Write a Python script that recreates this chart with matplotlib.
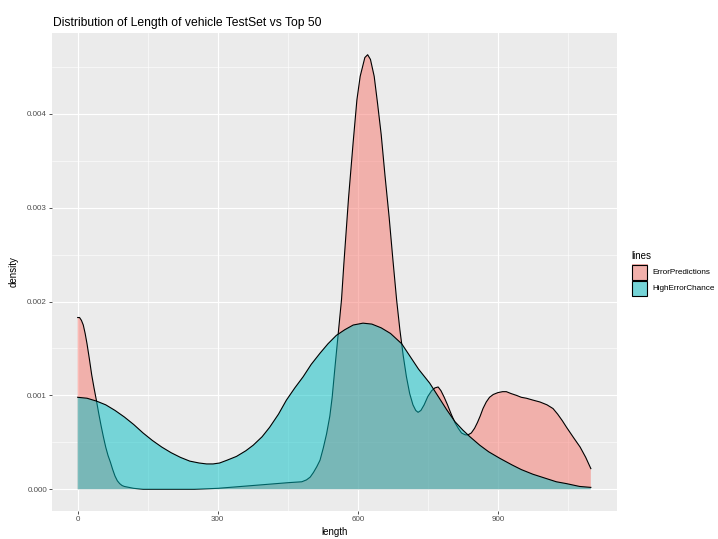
import matplotlib
matplotlib.use("Agg")
import matplotlib.pyplot as plt
from matplotlib.patches import Rectangle

plt.rcParams["font.family"] = ["Liberation Sans", "DejaVu Sans"]

title = "Distribution of Length of vehicle TestSet vs Top 50"
x_label = "length"
y_label = "density"
legend_title = "lines"
series_names = ["ErrorPredictions", "HighErrorChance"]
fill_colors = ["#F8766D", "#00BFC4"]

# density estimate of ErrorPredictions (length, density)
err_x = [0, 4, 8, 12, 16, 20, 25, 30, 35, 40, 45, 50, 55, 60, 65, 70, 75, 80,
         85, 90, 95, 100, 110, 120, 140, 200, 250, 300, 350, 400, 450, 480,
         490, 498, 505, 512, 519, 526, 533, 540, 545, 551, 558, 565, 570, 580,
         590, 598, 605, 615, 621, 627, 635, 642, 650, 658, 667, 675, 683, 690,
         697, 704, 711, 718, 724, 729, 735, 742, 750, 758, 765, 772, 778, 785,
         792, 800, 808, 815, 822, 830, 836, 843, 850, 856, 862, 868, 875, 882,
         890, 900, 910, 918, 928, 940, 950, 961, 975, 990, 1005, 1018, 1028,
         1038, 1047, 1062, 1076, 1088, 1099]
err_y = [0.00183, 0.00183, 0.00180, 0.00175, 0.00166, 0.00155, 0.00139, 0.00122,
         0.00108, 0.00095, 0.00081, 0.00068, 0.00056, 0.00045, 0.00036, 0.00029,
         0.00021, 0.00014, 0.00009, 0.00006, 0.00004, 0.00003, 0.00002, 0.00001,
         0.0, 0.0, 0.0, 0.00001, 0.00003, 0.00005, 0.00007, 0.00008,
         0.00010, 0.00013, 0.00018, 0.00024, 0.00031, 0.00044, 0.00059, 0.00078,
         0.00098, 0.00130, 0.00166, 0.00202, 0.00240, 0.00310,
         0.00370, 0.00415, 0.00440, 0.00460, 0.00463, 0.00458, 0.00440, 0.00412,
         0.00378, 0.00335, 0.00290, 0.00245, 0.00202, 0.00170,
         0.00143, 0.00120, 0.00102, 0.00090, 0.00084, 0.00082, 0.00084, 0.00090,
         0.00099, 0.00105, 0.00108, 0.00109, 0.00105, 0.00098,
         0.00090, 0.00080, 0.00071, 0.00065, 0.00060, 0.00058, 0.00058, 0.00060,
         0.00065, 0.00071, 0.00078, 0.00086, 0.00093, 0.00098,
         0.00101, 0.00103, 0.00104, 0.00104, 0.00102, 0.00100, 0.00098, 0.00097,
         0.00095, 0.00093, 0.00090, 0.00086, 0.00080,
         0.00073, 0.00066, 0.00055, 0.00045, 0.00034, 0.00022]

# density estimate of HighErrorChance (length, density)
high_x = [0, 20, 40, 60, 80, 100, 120, 140, 160, 180, 200, 220, 240, 260, 276,
          290, 304, 320, 340, 360, 376, 395, 411, 430, 447, 465, 483, 500, 519,
          536, 554, 572, 590, 611, 630, 650, 670, 694, 710, 730, 754, 772, 790,
          808, 825, 840, 861, 880, 904, 930, 950, 975, 1000, 1025, 1047, 1075,
          1099]
high_y = [0.00098, 0.00097, 0.00094, 0.00090, 0.00084, 0.00077, 0.00069, 0.00060,
          0.00052, 0.00045, 0.00039, 0.00034, 0.00030, 0.00028, 0.00027,
          0.00027, 0.00028, 0.00031, 0.00035, 0.00041, 0.00047, 0.00056, 0.00066,
          0.00080, 0.00095, 0.00108, 0.00120, 0.00133, 0.00145,
          0.00155, 0.00164, 0.00170, 0.00175, 0.00177, 0.00176, 0.00172, 0.00166,
          0.00155, 0.00143, 0.00128, 0.00113, 0.00099, 0.00085,
          0.00072, 0.00063, 0.00056, 0.00047, 0.00040, 0.00033, 0.00026, 0.00021,
          0.00016, 0.00012, 0.00008, 0.00006, 0.00003, 0.00002]

x_major = [0, 300, 600, 900]
x_minor = [150, 450, 750, 1050]
y_major = [0.000, 0.001, 0.002, 0.003, 0.004]
y_minor = [0.0005, 0.0015, 0.0025, 0.0035, 0.0045]

W, H = 718, 539
fig = plt.figure(figsize=(W / 100, H / 100), dpi=100)
fig.patch.set_facecolor("white")
ax = fig.add_axes([52 / W, 28 / H, (617 - 52) / W, (511 - 33) / H])
ax.set_facecolor("#EBEBEB")
for s in ax.spines.values():
    s.set_visible(False)

series = [(err_x, err_y), (high_x, high_y)]
for i, ((xs, ys), col) in enumerate(zip(series, fill_colors)):
    ax.fill_between(xs, 0, ys, facecolor=col, alpha=0.5, linewidth=0, zorder=3 + 2 * i)
    ax.plot(xs, ys, color="black", linewidth=0.8, zorder=4 + 2 * i,
            solid_joinstyle="round")

xmin, xmax = 0, 1100
ymax = max(max(err_y), max(high_y))
ax.set_xlim(xmin - 0.05 * (xmax - xmin), xmax + 0.05 * (xmax - xmin))
ax.set_ylim(-0.05 * ymax, ymax * 1.05)

ax.set_xticks(x_major)
ax.set_xticks(x_minor, minor=True)
ax.set_yticks(y_major)
ax.set_yticks(y_minor, minor=True)
ax.set_xticklabels([str(v) for v in x_major])
ax.set_yticklabels([f"{v:.3f}" for v in y_major])
ax.grid(True, which="major", color="white", linewidth=0.8, zorder=1)
ax.grid(True, which="minor", color="white", linewidth=0.4, zorder=1)
ax.set_axisbelow(True)
ax.tick_params(which="major", length=2.0, width=0.6, color="#333333",
               labelsize=5.8, labelcolor="#4D4D4D", pad=1.6)
ax.tick_params(which="minor", length=0)

ax.set_xlabel(x_label, fontsize=7.0, labelpad=3)
ax.set_ylabel(y_label, fontsize=7.0, labelpad=6)

fig.text(53 / W, 1 - 26 / H, title, fontsize=8.75, ha="left", va="baseline")

# legend
fig.text(631.5 / W, 1 - 256 / H, legend_title, fontsize=7.0, ha="left", va="center")
key_top = 264
key_h = 16
for i, (name, col) in enumerate(zip(series_names, fill_colors)):
    top = key_top + i * (key_h + 0.5)
    fig.add_artist(Rectangle((631.5 / W, 1 - (top + key_h) / H), key_h / W, key_h / H,
                             transform=fig.transFigure, facecolor="#EBEBEB",
                             edgecolor="none"))
    fig.add_artist(Rectangle((631.5 / W, 1 - (top + key_h) / H), key_h / W, key_h / H,
                             transform=fig.transFigure, facecolor=col, alpha=0.5,
                             edgecolor="none"))
    fig.add_artist(Rectangle((632 / W, 1 - (top + key_h - 0.5) / H), (key_h - 1) / W,
                             (key_h - 1) / H, transform=fig.transFigure,
                             facecolor="none", edgecolor="black", linewidth=0.8))
    fig.text(652.5 / W, 1 - (top + key_h / 2) / H, name, fontsize=5.9,
             ha="left", va="center")

fig.savefig("out.png", dpi=100)
